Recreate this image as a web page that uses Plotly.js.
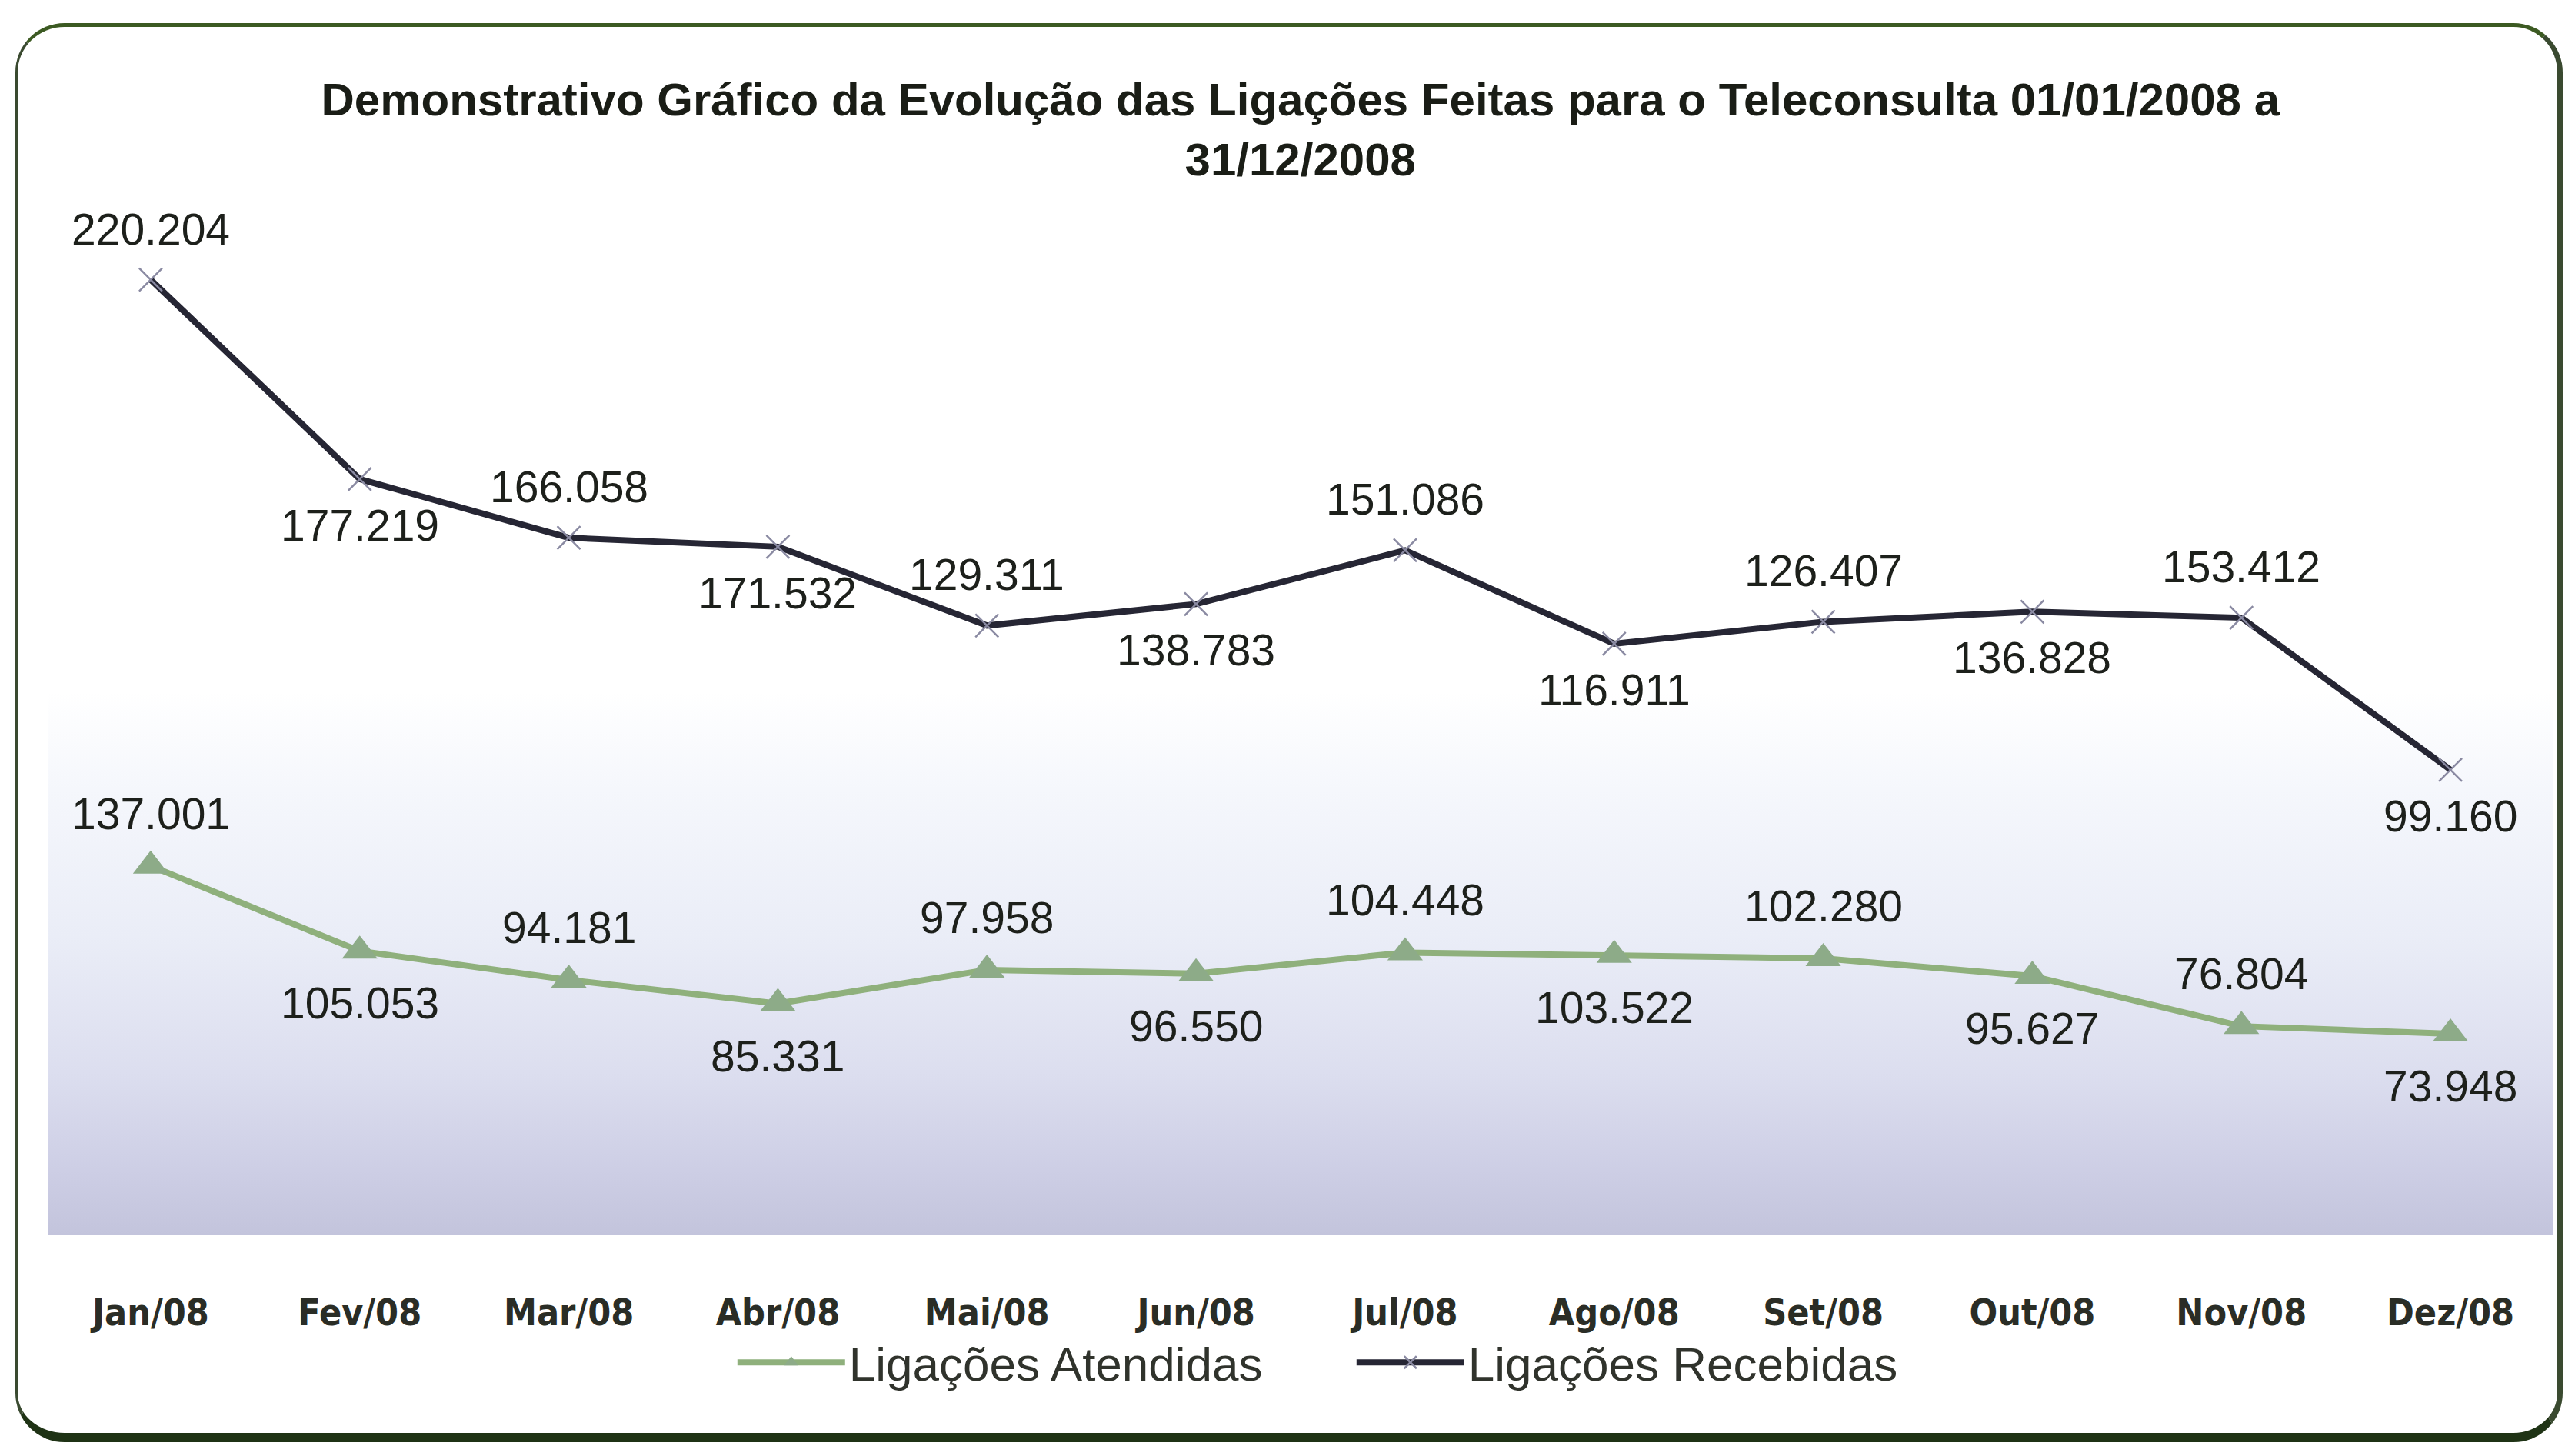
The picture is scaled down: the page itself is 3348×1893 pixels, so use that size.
<!DOCTYPE html>
<html>
<head>
<meta charset="utf-8">
<script src="https://cdn.plot.ly/plotly-3.0.1.min.js"></script>
<style>
  html, body { margin: 0; padding: 0; background: #ffffff; }
  #wrap { position: relative; width: 3348px; height: 1893px; overflow: hidden; background: #fff; }
  #frame { position: absolute; left: 20px; top: 30px; width: 3312px; height: 1845px;
           border: 3px solid #3a4a30; border-top: 5px solid #3c5a22; border-right-width: 7px; border-bottom: 12px solid #1f3315;
           border-radius: 64px; box-sizing: border-box; }
  #grad { position: absolute; left: 62px; top: 900px; width: 3258px; height: 706px;
          background: linear-gradient(to bottom, rgba(255,255,255,1) 0%, #f5f7fc 18%, #eaedf7 45%, #dcdeef 70%, #cdcee5 88%, #c3c4dc 100%); }
  #chart { position: absolute; left: 0; top: 0; width: 3348px; height: 1893px; }
</style>
</head>
<body>
<div id="wrap">
  <div id="frame"></div>
  <div id="grad"></div>
  <div id="chart"></div>
</div>
<script>
// ---- data ----
const months = ["Jan/08","Fev/08","Mar/08","Abr/08","Mai/08","Jun/08","Jul/08","Ago/08","Set/08","Out/08","Nov/08","Dez/08"];
const atendidas = [137001,105053,94181,85331,97958,96550,104448,103522,102280,95627,76804,73948];
const recebidas = [220204,177219,166058,171532,129311,138783,151086,116911,126407,136828,153412,99160];
const seriesNames = ["Ligações Atendidas","Ligações Recebidas"];
const titleText = "Demonstrativo Gráfico da Evolução das Ligações Feitas para o Teleconsulta 01/01/2008 a<br>31/12/2008";

function fmt(v) { return String(v).replace(/\B(?=(\d{3})+(?!\d))/g, "."); }

const green = "#8fb07c";
const dark = "#262634";
const labelFont = {family: "Arial, Liberation Sans, sans-serif", size: 57, color: "#1d201b"};

const traceA = {
  type: "scatter", mode: "lines+markers", name: seriesNames[0],
  x: months, y: atendidas, stackgroup: "s", fill: "none",
  line: {color: green, width: 8},
  marker: {symbol: "triangle-up", size: 40, color: "#8dab88"},
  hoverinfo: "x+text", text: atendidas.map(fmt)
};
const traceR = {
  type: "scatter", mode: "lines+markers", name: seriesNames[1],
  x: months, y: recebidas, stackgroup: "s", fill: "none",
  line: {color: dark, width: 8},
  marker: {symbol: "x-thin-open", size: 30, color: "#8a8aa2", line: {color: "#8a8aa2", width: 2.5}},
  hoverinfo: "x+text", text: recebidas.map(fmt)
};

const annotations = [];
months.forEach((m, i) => {
  const up = (i % 2 === 0);
  annotations.push({
    x: m, y: atendidas[i], xref: "x", yref: "y", text: fmt(atendidas[i]),
    showarrow: false, yshift: up ? 68 : -68, font: labelFont
  });
  annotations.push({
    x: m, y: atendidas[i] + recebidas[i], xref: "x", yref: "y", text: fmt(recebidas[i]),
    showarrow: false, yshift: up ? 66 : -60, font: labelFont
  });
});

const layout = {
  width: 3348, height: 1893,
  margin: {l: 60, r: 26, t: 250, b: 293, pad: 0},
  paper_bgcolor: "rgba(0,0,0,0)", plot_bgcolor: "rgba(0,0,0,0)",
  separators: ",.",
  title: {
    text: titleText, x: 0.505, xanchor: "center", y: 1 - 150/1893, yanchor: "middle", yref: "container",
    font: {family: "Arial, Liberation Sans, sans-serif", size: 60, color: "#1a1d16", weight: "bold"}
  },
  xaxis: {
    type: "category", range: [-0.5, 11.5], showgrid: false, zeroline: false, showline: false,
    ticks: "", ticklabelstandoff: 74,
    tickfont: {family: "DejaVu Sans Condensed, Arial, sans-serif", size: 48, color: "#2a2d26", weight: "bold"}
  },
  yaxis: {range: [0, 390000], visible: false, showgrid: false, zeroline: false, fixedrange: true},
  showlegend: true,
  legend: {
    orientation: "h", x: 0.274, xanchor: "left", y: -0.127, yanchor: "middle",
    traceorder: "normal", itemwidth: 140, entrywidth: 650, entrywidthmode: "pixels",
    font: {family: "Arial, Liberation Sans, sans-serif", size: 62, color: "#30332c"},
    bgcolor: "rgba(0,0,0,0)"
  },
  annotations: annotations
};

Plotly.newPlot("chart", [traceA, traceR], layout, {displayModeBar: false, staticPlot: true});
</script>
</body>
</html>
